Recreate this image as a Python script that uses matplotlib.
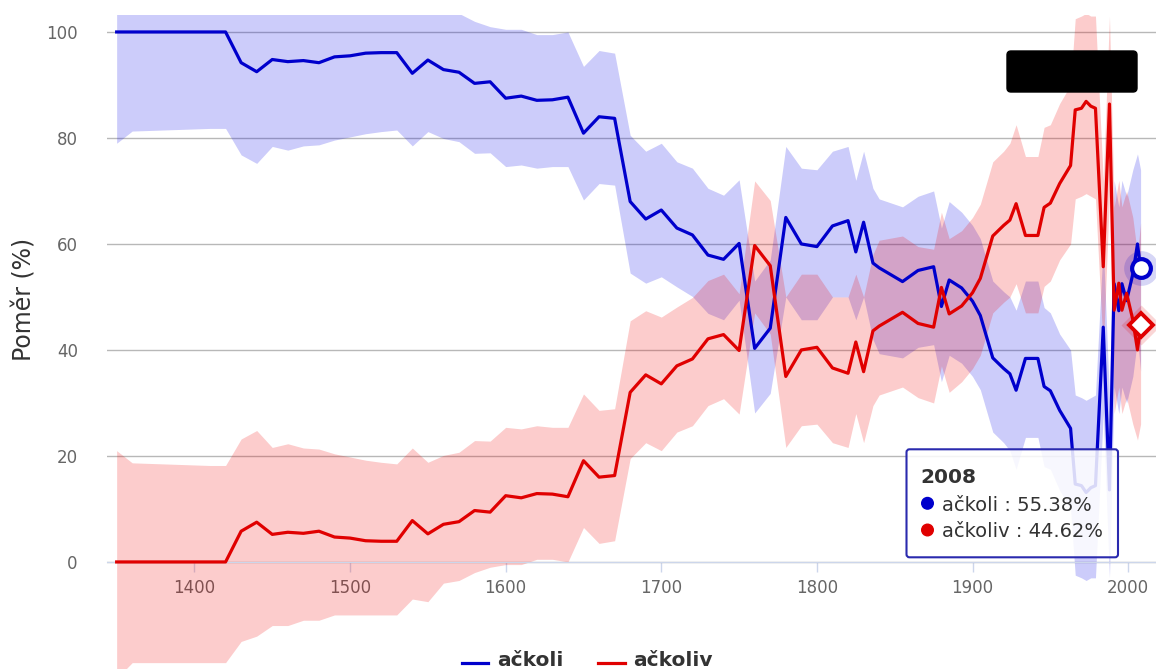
import matplotlib
matplotlib.use("Agg")
import matplotlib.pyplot as plt
from matplotlib.patches import FancyBboxPatch, Circle
from matplotlib.lines import Line2D
from matplotlib.transforms import IdentityTransform

plt.rcParams['font.family'] = ['DejaVu Sans']

# --- data -----------------------------------------------------------------
years = [1350, 1360, 1370, 1380, 1390, 1400, 1410, 1420, 1430, 1440,
         1450, 1460, 1470, 1480, 1490, 1500, 1510, 1520, 1530, 1540,
         1550, 1560, 1570, 1580, 1590, 1600, 1610, 1620, 1630, 1640,
         1650, 1660, 1670, 1680, 1690, 1700, 1710, 1720, 1730, 1740,
         1750, 1760, 1770, 1780, 1790, 1800, 1810, 1820, 1825, 1830,
         1836, 1840, 1855, 1865, 1875, 1880, 1885, 1893, 1900, 1905,
         1913, 1920, 1924, 1928, 1934, 1942, 1946, 1950, 1956, 1963,
         1966, 1970, 1973, 1976, 1979, 1984, 1988, 1991, 1994, 1996,
         1999, 2003, 2006, 2008]

# share of "ačkoli" (%)
ackoli = [100, 100, 100, 100, 100, 100, 100, 100, 94.2, 92.5,
          94.8, 94.4, 94.6, 94.2, 95.3, 95.5, 96.0, 96.1, 96.1, 92.2,
          94.7, 92.9, 92.4, 90.3, 90.6, 87.5, 87.9, 87.1, 87.2, 87.7,
          80.9, 84.0, 83.7, 68.0, 64.7, 66.4, 63.0, 61.7, 57.9, 57.1,
          60.1, 40.3, 44.1, 65.0, 60.0, 59.5, 63.4, 64.4, 58.5, 64.1,
          56.4, 55.5, 52.9, 55.0, 55.7, 48.2, 53.2, 51.7, 49.2, 46.5,
          38.5, 36.5, 35.5, 32.4, 38.4, 38.4, 33.1, 32.3, 28.6, 25.2,
          14.7, 14.4, 13.1, 14.0, 14.4, 44.3, 13.6, 52.5, 47.4, 52.5,
          49.3, 54.3, 60.0, 55.38]

# share of "ačkoliv" (%)
ackoliv = [0, 0, 0, 0, 0, 0, 0, 0, 5.8, 7.5,
           5.2, 5.6, 5.4, 5.8, 4.7, 4.5, 4.0, 3.9, 3.9, 7.8,
           5.3, 7.1, 7.6, 9.7, 9.4, 12.5, 12.1, 12.9, 12.8, 12.3,
           19.1, 16.0, 16.3, 32.0, 35.3, 33.6, 37.0, 38.3, 42.1, 42.9,
           39.9, 59.7, 55.9, 35.0, 40.0, 40.5, 36.6, 35.6, 41.5, 35.9,
           43.6, 44.5, 47.1, 45.0, 44.3, 51.8, 46.8, 48.3, 50.8, 53.5,
           61.5, 63.5, 64.5, 67.6, 61.6, 61.6, 66.9, 67.7, 71.4, 74.8,
           85.3, 85.6, 86.9, 86.0, 85.6, 55.7, 86.4, 47.5, 52.6, 47.5,
           50.7, 45.7, 40.0, 44.62]

# confidence band of "ačkoli" (%)
ackoli_low = [79.0, 81.3, 81.4, 81.5, 81.6, 81.7, 81.8, 81.8, 76.8, 75.2,
              78.4, 77.7, 78.5, 78.7, 79.6, 80.2, 80.8, 81.2, 81.5, 78.5,
              81.2, 79.9, 79.3, 77.1, 77.2, 74.6, 74.9, 74.3, 74.6, 74.6,
              68.3, 71.4, 71.1, 54.5, 52.6, 53.8, 51.9, 50.1, 46.9, 45.7,
              49.4, 28.1, 31.8, 50.0, 45.7, 45.7, 50.0, 50.0, 45.7, 50.0,
              42.0, 39.3, 38.5, 40.5, 41.0, 34.0, 39.0, 37.5, 35.0, 32.5,
              24.5, 22.5, 21.0, 17.5, 23.5, 23.5, 18.0, 17.5, 13.5, 10.0,
              -2.5, -3.0, -3.5, -3.0, -3.0, 28.0, -3.0, 33.0, 28.0, 33.0,
              30.0, 35.0, 42.0, 36.0]
ackoli_high = [122, 119, 119, 119, 119, 119, 119, 119, 115, 114,
               112, 112, 111, 111, 110, 110, 110, 110, 110, 107,
               107.5, 104, 103.5, 102, 101, 100.5, 100.5, 99.5, 99.5, 100,
               93.5, 96.5, 96.0, 80.5, 77.5, 79.0, 75.5, 74.3, 70.5, 69.2,
               72.1, 53.0, 57.0, 78.4, 74.3, 74.0, 77.5, 78.4, 72.0, 77.5,
               70.5, 68.5, 67.0, 69.0, 70.0, 63.0, 68.0, 66.0, 63.5, 61.0,
               53.0, 51.0, 50.0, 47.5, 53.0, 53.0, 48.0, 47.0, 43.0, 40.0,
               31.5, 31.0, 30.5, 31.0, 31.5, 60.0, 31.0, 72.0, 67.0, 72.0,
               69.0, 74.0, 77.0, 74.0]

# confidence band of "ačkoliv" (%)
ackoliv_low = [100 - v for v in ackoli_high]
ackoliv_high = [100 - v for v in ackoli_low]

series_names = ['ačkoli', 'ačkoliv']
x_ticks = [1400, 1500, 1600, 1700, 1800, 1900, 2000]
y_ticks = [0, 20, 40, 60, 80, 100]

BLUE = '#0000cc'
RED = '#e00000'
TEXT = '#333333'

# --- figure ---------------------------------------------------------------
W, H = 1156, 669
fig = plt.figure(figsize=(W / 100, H / 100), dpi=100)
ax = fig.add_axes([107 / W, 0, (W - 107) / W, (H - 15) / H])
ax.set_xlim(1343.8, 2017.9)
ax.set_ylim(-20.2, 103.2)

ax.fill_between(years, ackoli_low, ackoli_high, color='#0000e6',
                alpha=0.2, linewidth=0, zorder=1)
ax.fill_between(years, ackoliv_low, ackoliv_high, color='#f00000',
                alpha=0.2, linewidth=0, zorder=1)
ax.plot(years, ackoli, color=BLUE, lw=2.3, zorder=3,
        solid_joinstyle='round')
ax.plot(years, ackoliv, color=RED, lw=2.3, zorder=3,
        solid_joinstyle='round')

# hovered points (last year)
hx = years[-1]
ax.plot([hx], [ackoli[-1]], 'o', ms=25, color=BLUE, alpha=0.16,
        mec='none', zorder=4, clip_on=False)
ax.plot([hx], [ackoli[-1]], 'o', ms=13.5, mfc='white', mec=BLUE,
        mew=3.0, zorder=5, clip_on=False)
ax.plot([hx], [ackoliv[-1]], 'D', ms=20, color=RED, alpha=0.16,
        mec='none', zorder=4, clip_on=False)
ax.plot([hx], [ackoliv[-1]], 'D', ms=12, mfc='white', mec=RED,
        mew=2.8, zorder=5, clip_on=False)

# axes styling
ax.set_yticks(y_ticks)
ax.set_xticks(x_ticks)
ax.grid(axis='y', color='#b8b8b8', lw=1)
ax.set_axisbelow(True)
for side in ('top', 'right', 'left'):
    ax.spines[side].set_visible(False)
ax.spines['bottom'].set_position(('data', 0))
ax.spines['bottom'].set_color('#ccd6eb')
ax.tick_params(axis='y', length=0, pad=21, labelsize=12, labelcolor='#666666')
ax.tick_params(axis='x', length=7.5, width=1, color='#ccd6eb', pad=5,
               labelsize=12, labelcolor='#666666')
ax.patch.set_visible(False)

fig.text(25 / W, 1 - 299 / H, 'Poměr (%)', rotation=90, fontsize=17,
         color=TEXT, ha='center', va='center')

# legend
px = IdentityTransform()
for (x0, x1, tx), name, col in zip([(462, 488, 497), (598, 625, 633)],
                                    series_names, [BLUE, RED]):
    fig.add_artist(Line2D([x0, x1], [H - 663, H - 663], color=col,
                          lw=2.3, transform=px))
    fig.text(tx, H - 666, name, transform=px, fontsize=14.5,
             fontweight='bold', color=TEXT, ha='left', va='baseline')

# black label box at top right
fig.add_artist(FancyBboxPatch((1007, H - 92), 130, 41,
                              boxstyle='round,pad=0,rounding_size=4',
                              facecolor='black', edgecolor='black',
                              transform=px, zorder=6))

# tooltip
fig.add_artist(FancyBboxPatch((906.5, H - 557.3), 211.5, 108,
                              boxstyle='round,pad=0,rounding_size=3',
                              facecolor='white', alpha=0.85,
                              edgecolor='none', transform=px, zorder=6))
fig.add_artist(FancyBboxPatch((906.5, H - 557.3), 211.5, 108,
                              boxstyle='round,pad=0,rounding_size=3',
                              facecolor='none', edgecolor='#2a2aae',
                              lw=1.5, transform=px, zorder=7))
fig.text(920, H - 483.3, str(hx), transform=px, fontsize=14.5,
         fontweight='bold', color=TEXT, va='baseline', zorder=8)
for yb, yc, name, val, col in [(510.7, 503.3, series_names[0], ackoli[-1], BLUE),
                               (537.3, 530.0, series_names[1], ackoliv[-1], RED)]:
    fig.add_artist(Circle((927.5, H - yc), 5.8, color=col, transform=px,
                          zorder=8))
    fig.text(941.5, H - yb, f'{name} : {val:.2f}%', transform=px,
             fontsize=14, color=TEXT, va='baseline', zorder=8)

fig.savefig('out.png', dpi=100)
